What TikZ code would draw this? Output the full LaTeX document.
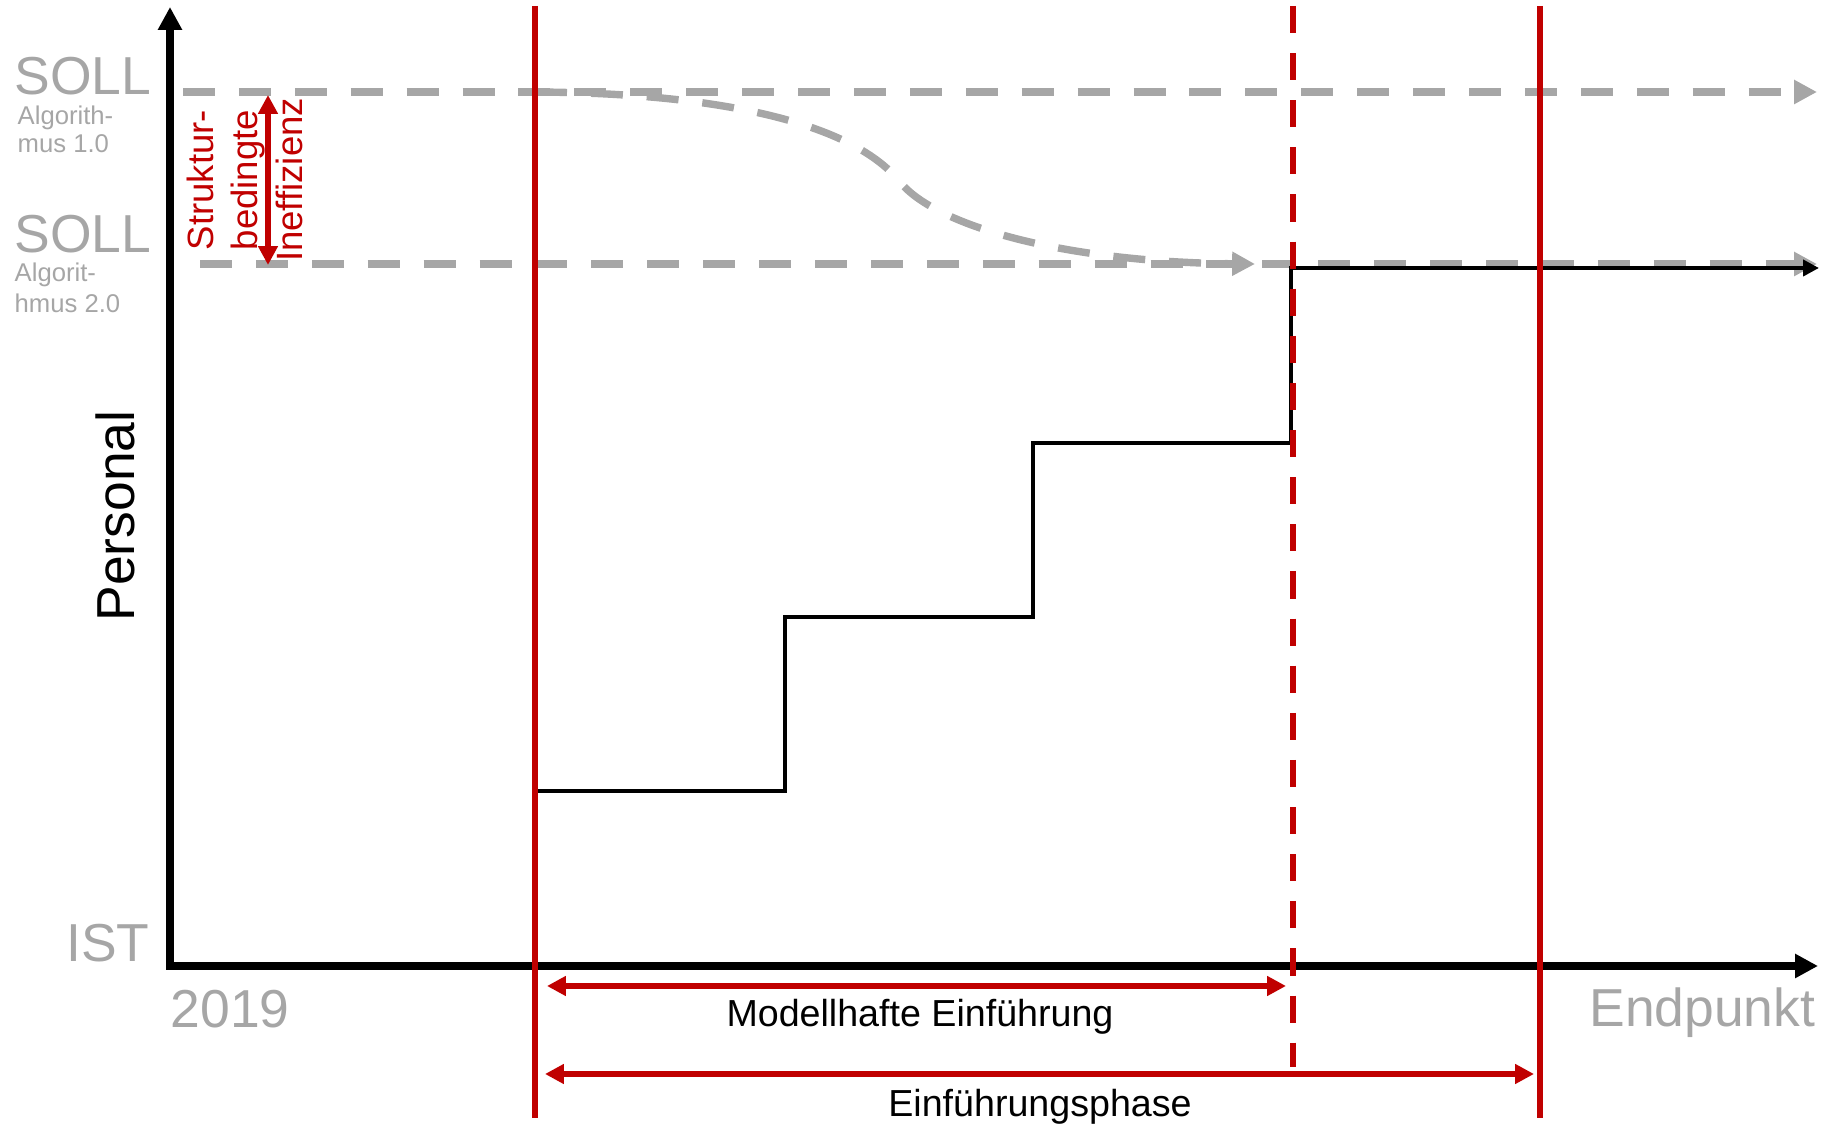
\documentclass[tikz,border=0pt]{standalone}
\usepackage{fontspec}
\setmainfont{Liberation Sans}
\usetikzlibrary{arrows.meta}
\definecolor{sollgray}{HTML}{A6A6A6}
\definecolor{phasered}{HTML}{C00000}

\begin{document}
\begin{tikzpicture}[
    x=0.01cm, y=-0.01cm,
    axisline/.style={line width=2.3pt,
        {Triangle[length=6.5pt,width=6.5pt]}-{Triangle[length=6.5pt,width=6.5pt]}},
    sollline/.style={sollgray, line width=2.1pt, dash pattern=on 9.1pt off 6.8pt,
        -{Triangle[length=6.5pt,width=6.5pt]}},
    istline/.style={line width=1.4pt, -{Triangle[length=4.5pt,width=4.5pt]}},
    phaseline/.style={phasered, line width=1.7pt},
    spanarrow/.style={phasered, line width=1.6pt,
        {Triangle[length=5.4pt,width=5.4pt]}-{Triangle[length=5.4pt,width=5.4pt]}},
    biglabel/.style={sollgray, inner sep=0pt, font=\fontsize{15.2}{18}\selectfont},
    smalllabel/.style={sollgray, inner sep=0pt, anchor=base west,
        font=\fontsize{7.3}{9}\selectfont},
    redlabel/.style={phasered, inner sep=0pt, rotate=90, anchor=base,
        font=\fontsize{10.4}{12.5}\selectfont},
    spanlabel/.style={inner sep=0pt, anchor=base, font=\fontsize{10.7}{13}\selectfont}
]
    \useasboundingbox (0,0) rectangle (1835,1125);

    % axes
    \coordinate (origin) at (170,966);
    \coordinate (ytip) at (170,7);
    \coordinate (xtip) at (1818,966);

    % target lines
    \coordinate (soll1start) at (183,92);
    \coordinate (soll1end) at (1817,92);
    \coordinate (soll2start) at (200,264);
    \coordinate (soll2end) at (1817,264);
    \coordinate (curvestart) at (535,92);
    \coordinate (curvemid) at (900,182);
    \coordinate (curveend) at (1255,264);

    % staircase
    \coordinate (s0) at (535,791);
    \coordinate (s1) at (785,791);
    \coordinate (s2) at (785,617);
    \coordinate (s3) at (1033,617);
    \coordinate (s4) at (1033,443);
    \coordinate (s5) at (1291,443);
    \coordinate (s6) at (1291,268);
    \coordinate (s7) at (1819,268);

    % phase borders
    \coordinate (starttop) at (535,6);
    \coordinate (startbot) at (535,1118);
    \coordinate (modeltop) at (1293,6);
    \coordinate (modelbot) at (1293,1067);
    \coordinate (endtop) at (1540,6);
    \coordinate (endbot) at (1540,1118);

    \draw[sollline] (soll1start) -- (soll1end);
    \draw[sollline] (soll2start) -- (soll2end);
    \draw[sollline] (curvestart) .. controls (710,93) and (850,120) .. (curvemid)
        .. controls (935,225) and (1060,262) .. (curveend);

    \draw[istline] (s0) -- (s1) -- (s2) -- (s3) -- (s4) -- (s5) -- (s6) -- (s7);
    \draw[axisline] (ytip) -- (origin) -- (xtip);

    \draw[phaseline] (starttop) -- (startbot);
    \draw[phaseline, dash pattern=on 7.7pt off 5.7pt] (modeltop) -- (modelbot);
    \draw[phaseline] (endtop) -- (endbot);

    \coordinate (gaptop) at (268,95);
    \coordinate (gapbot) at (268,265);
    \coordinate (modelleft) at (547,986);
    \coordinate (modelright) at (1286,986);
    \coordinate (phaseleft) at (545,1074);
    \coordinate (phaseright) at (1534,1074);
    \draw[spanarrow] (gaptop) -- (gapbot);
    \draw[spanarrow] (modelleft) -- (modelright);
    \draw[spanarrow] (phaseleft) -- (phaseright);

    % labels
    \node[biglabel, anchor=base west] (soll1) at (14,95) {SOLL};
    \node[smalllabel] (algo1a) at (17,125) {Algorith-};
    \node[smalllabel] (algo1b) at (17,153) {mus 1.0};
    \node[biglabel, anchor=base west] (soll2) at (14,253) {SOLL};
    \node[smalllabel] (algo2a) at (14,282) {Algorit-};
    \node[smalllabel] (algo2b) at (14,313) {hmus 2.0};
    \node[biglabel, anchor=base east] (ist) at (150,962) {IST};
    \node[biglabel, anchor=base west] (year) at (170,1028) {2019};
    \node[biglabel, anchor=base east] (endpoint) at (1816,1027) {Endpunkt};
    \node[inner sep=0pt, rotate=90, anchor=base, font=\fontsize{15.2}{18}\selectfont]
        (personal) at (134,516) {Personal};
    \node[redlabel] (struk1) at (213,180) {Struktur-};
    \node[redlabel] (struk2) at (258,180) {bedingte};
    \node[redlabel] (struk3) at (302,180) {Ineffizienz};
    \node[spanlabel] (modell) at (920,1027) {Modellhafte Einführung};
    \node[spanlabel] (phase) at (1040,1117) {Einführungsphase};
\end{tikzpicture}
\end{document}
